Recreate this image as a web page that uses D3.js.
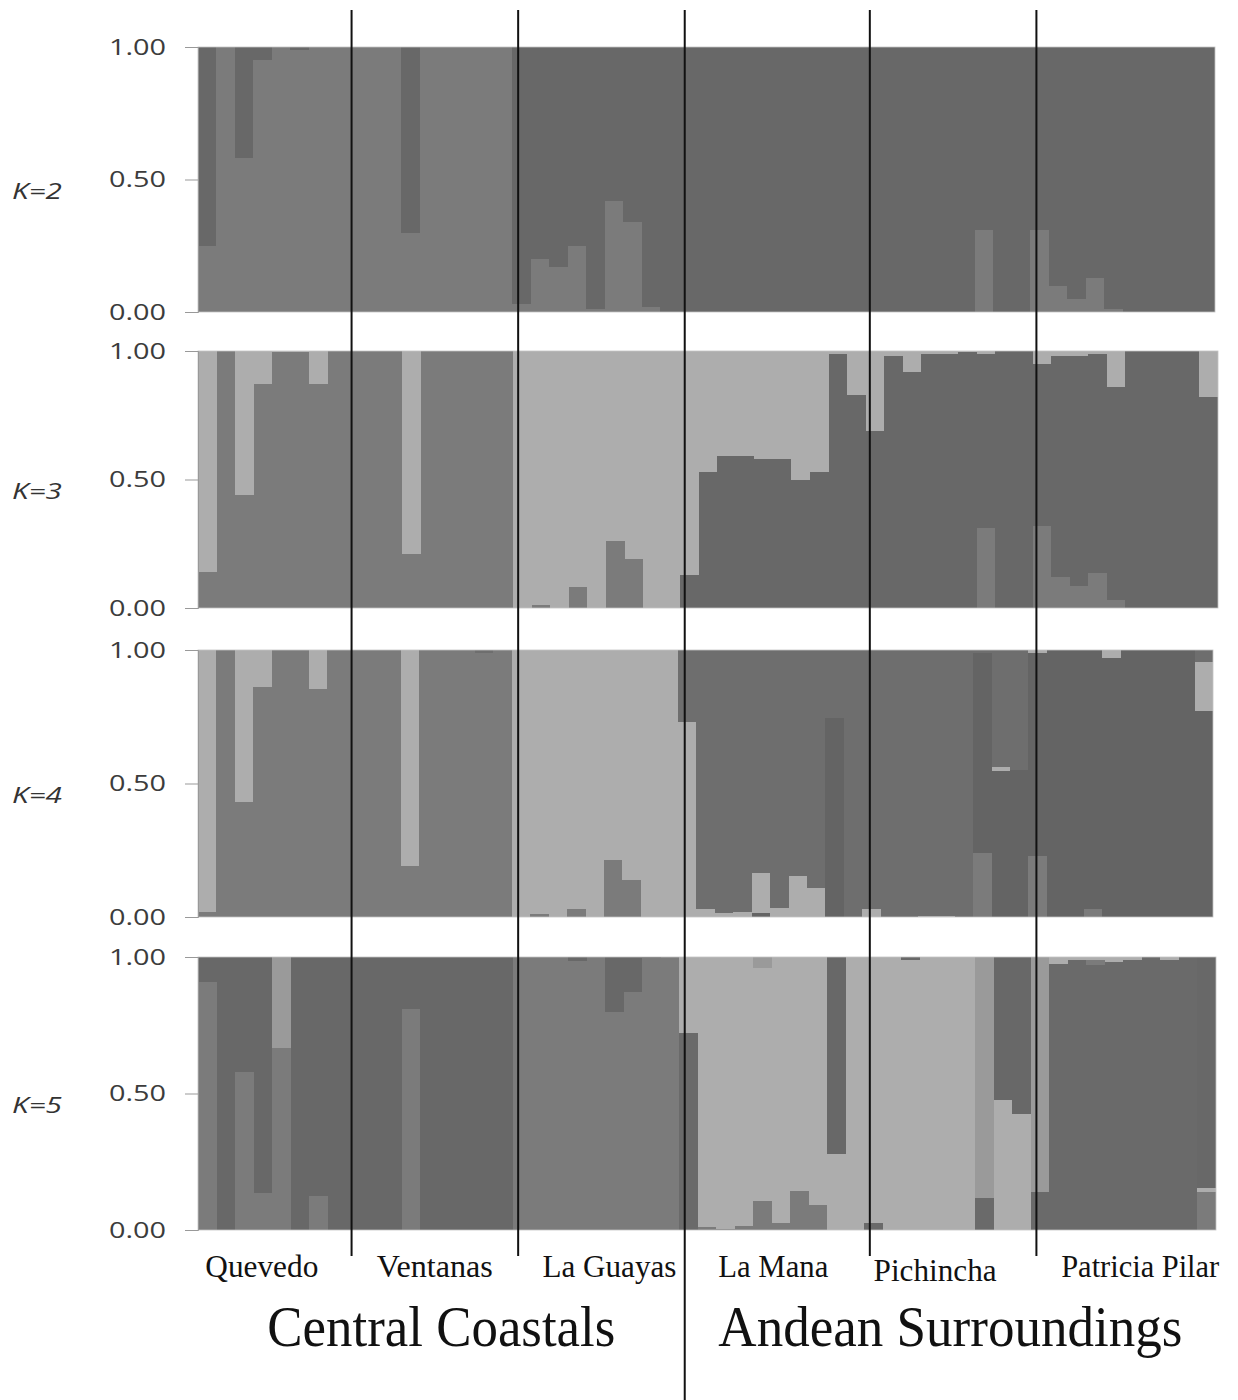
<!DOCTYPE html>
<html><head><meta charset="utf-8">
<script src="https://cdn.jsdelivr.net/npm/d3@7"></script>
<style>body{margin:0;background:#fff}</style>
</head><body><svg id="c" width="1238" height="1400"></svg>
<script>
// ---------------- DATA ----------------
const populations = ["Quevedo","Ventanas","La Guayas","La Mana","Pichincha","Patricia Pilar"];
const popSizes = [8,9,9,10,9,10];
const regions = ["Central Coastals","Andean Surroundings"];
const regionPopCounts = [3,3];
const kLabels = ["K=2","K=3","K=4","K=5"];
const tickValues = [0, 0.5, 1];
const tickLabels = ["0.00","0.50","1.00"];

// K=2 (bottom -> top)
const k2_c1 = [0.25,1,0.58,0.95,1,0.99,1,1, 1,1,1,0.30,1,1,1,1,1, 0.03,0.20,0.17,0.25,0.01,0.42,0.34,0.02,0, 0,0,0,0,0,0,0,0,0,0, 0,0,0,0,0,0,0.31,0,0, 0.31,0.10,0.05,0.13,0.01,0,0,0,0,0];
const k2_c2 = [0.75,0,0.42,0.05,0,0.01,0,0, 0,0,0,0.70,0,0,0,0,0, 0.97,0.80,0.83,0.75,0.99,0.58,0.66,0.98,1, 1,1,1,1,1,1,1,1,1,1, 1,1,1,1,1,1,0.69,1,1, 0.69,0.90,0.95,0.87,0.99,1,1,1,1,1];

// K=3
const k3_c1 = [0.14,1,0.44,0.87,0.995,0.995,0.87,1, 1,1,1,0.21,1,1,1,1,1, 0,0.01,0,0.08,0,0.26,0.19,0,0, 0,0,0,0,0,0,0,0,0,0, 0,0,0,0,0,0,0.31,0,0, 0.32,0.12,0.085,0.135,0.03,0,0,0,0,0];
const k3_c2 = [0,0,0,0,0,0,0,0, 0,0,0,0,0,0,0,0,0, 0,0,0,0,0,0,0,0,0, 0.13,0.53,0.59,0.59,0.58,0.58,0.50,0.53,0.99,0.83, 0.69,0.98,0.92,0.99,0.99,0.995,0.68,1,1, 0.63,0.86,0.895,0.855,0.83,1,1,1,1,0.82];
const k3_c3 = [0.86,0,0.56,0.13,0.005,0.005,0.13,0, 0,0,0,0.79,0,0,0,0,0, 1,0.99,1,0.92,1,0.74,0.81,1,1, 0.87,0.47,0.41,0.41,0.42,0.42,0.50,0.47,0.01,0.17, 0.31,0.02,0.08,0.01,0.01,0.005,0.01,0,0, 0.05,0.02,0.02,0.01,0.14,0,0,0,0,0.18];

// K=4
const k4_c1 = [0.02,1,0.43,0.86,1,1,0.855,1, 1,1,1,0.19,1,1,1,0.99,1, 0,0.01,0,0.03,0,0.215,0.14,0,0, 0,0,0,0,0,0,0,0,0,0, 0,0,0,0,0,0,0.24,0,0, 0.23,0,0,0.03,0,0,0,0,0,0];
const k4_c2 = [0,0,0,0,0,0,0,0, 0,0,0,0,0,0,0,0,0, 0,0,0,0,0,0,0,0,0, 0,0,0,0,0.015,0,0,0,0.745,0, 0,0,0,0,0,0,0.75,0.545,0.55, 0.76,1,1,0.97,0.97,1,1,1,1,0.77];
const k4_c3 = [0.98,0,0.57,0.14,0,0,0.145,0, 0,0,0,0.81,0,0,0,0,0, 1,0.99,1,0.97,1,0.785,0.86,1,1, 0.73,0.03,0.015,0.02,0.15,0.035,0.155,0.11,0,0, 0.03,0,0,0.005,0.005,0,0,0.015,0, 0.01,0,0,0,0.03,0,0,0,0,0.185];
const k4_c4 = [0,0,0,0,0,0,0,0, 0,0,0,0,0,0,0,0.01,0, 0,0,0,0,0,0,0,0,0, 0.27,0.97,0.985,0.98,0.835,0.965,0.845,0.89,0.255,1, 0.97,1,1,0.995,0.995,1,0.01,0.44,0.45, 0,0,0,0,0,0,0,0,0,0.045];

// K=5
const k5_c1 = [0,0,0,0,0,0,0,0, 0,0,0,0,0,0,0,0,0, 0,0,0,0,0,0,0,0,0, 0.72,0,0,0,0,0,0,0,0,0, 0.025,0,0,0,0,0,0.117,0,0, 0.14,0.975,0.988,0.97,0.98,0.99,1,0.99,1,0];
const k5_c2 = [0.91,0,0.58,0.135,0.665,0,0.125,0, 0,0,0,0.81,0,0,0,0,0, 1,1,1,0.985,1,0.8,0.87,0.995,1, 0,0.01,0.005,0.015,0.105,0.025,0.143,0.092,0,0, 0,0,0,0,0,0,0,0,0, 0,0,0,0.02,0,0,0,0,0,0.14];
const k5_c3 = [0,0,0,0,0,0,0,0, 0,0,0,0,0,0,0,0,0, 0,0,0,0,0,0,0,0,0, 0.28,0.99,0.995,0.985,0.855,0.975,0.857,0.908,0.28,1, 0.975,1,0.99,1,1,1,0,0.475,0.425, 0,0.025,0.012,0.01,0.02,0.01,0,0.01,0,0.015];
const k5_c4 = [0.09,1,0.42,0.865,0,1,0.875,1, 1,1,1,0.19,1,1,1,1,1, 0,0,0,0.015,0,0.2,0.13,0.005,0, 0,0,0,0,0,0,0,0,0.72,0, 0,0,0.01,0,0,0,0,0.525,0.575, 0,0,0,0,0,0,0,0,0,0.845];
const k5_c5 = [0,0,0,0,0.335,0,0,0, 0,0,0,0,0,0,0,0,0, 0,0,0,0,0,0,0,0,0, 0,0,0,0,0.04,0,0,0,0,0, 0,0,0,0,0,0,0.883,0,0, 0.86,0,0,0,0,0,0,0,0,0];

// ---------------- LAYOUT ----------------
const panels = [
  {label:kLabels[0], series:[k2_c1,k2_c2], colors:["#7b7b7b","#686868"], x0:198, x1:1215, y0:47, y1:312},
  {label:kLabels[1], series:[k3_c1,k3_c2,k3_c3], colors:["#7b7b7b","#686868","#adadad"], x0:198, x1:1218, y0:351, y1:608},
  {label:kLabels[2], series:[k4_c1,k4_c2,k4_c3,k4_c4], colors:["#7b7b7b","#646464","#adadad","#6e6e6e"], x0:198, x1:1213, y0:650, y1:917},
  {label:kLabels[3], series:[k5_c1,k5_c2,k5_c3,k5_c4,k5_c5], colors:["#6a6a6a","#7b7b7b","#adadad","#686868","#9a9a9a"], x0:198, x1:1216, y0:957, y1:1230}
];
const popLabelWidths = [113,116,134,110,123,158];
const popLabelShift = [-13,0,8,-4,-18,14];
const regionLabelWidths = [348,464];

const svg = d3.select("#c");
const n = k2_c1.length;
const idx = d3.range(n);

panels.forEach(p => {
  const x = d3.scaleBand().domain(idx).range([p.x0, p.x1]).padding(0);
  const y = d3.scaleLinear().domain([0,1]).range([p.y1, p.y0]).clamp(true);
  const keys = p.series.map((s,j) => "c"+j);
  const rows = idx.map(i => { const o = {i}; p.series.forEach((s,j) => o["c"+j] = s[i]); return o; });
  const stacked = d3.stack().keys(keys)(rows);
  const g = svg.append("g").attr("shape-rendering","crispEdges");
  stacked.forEach((layer, j) => {
    g.append("g").attr("fill", p.colors[j])
      .selectAll("rect").data(layer.filter(d => d[1]-d[0] > 0)).join("rect")
      .attr("x", d => x(d.data.i)).attr("width", x.bandwidth())
      .attr("y", d => y(Math.min(1,d[1]))).attr("height", d => y(d[0]) - y(Math.min(1,d[1])));
  });
  svg.append("rect").attr("x", p.x0).attr("y", p.y0).attr("width", p.x1-p.x0).attr("height", p.y1-p.y0)
    .attr("fill","none").attr("stroke","#c4c4c4").attr("stroke-width",0.8);

  const ax = d3.axisLeft(y).tickValues(tickValues).tickFormat((d,i) => tickLabels[i]).tickSize(13).tickPadding(19);
  const ag = svg.append("g").attr("transform", `translate(${p.x0},0)`).call(ax);
  ag.select(".domain").attr("stroke","#999");
  ag.selectAll(".tick line").attr("stroke","#999");
  ag.selectAll(".tick text").attr("fill","#3c3c3c").style("font-family","'Open Sans', sans-serif")
    .style("font-size","22px").attr("textLength",57).attr("lengthAdjust","spacingAndGlyphs");

  svg.append("text").attr("x", 12).attr("y", y(0.5) + 19).text(p.label)
    .attr("fill","#333").style("font-family","'Open Sans', sans-serif").style("font-style","italic")
    .style("font-size","21px").attr("textLength",50).attr("lengthAdjust","spacingAndGlyphs");
});

// population separators
const xs = d3.scaleBand().domain(idx).range([198, 1216]);
const starts = popSizes.map((s,i) => d3.sum(popSizes.slice(0,i)));
const regionBoundary = d3.sum(popSizes.slice(0, regionPopCounts[0]));
const sepX = k => xs(k) + 5.5;
starts.slice(1).forEach(k => {
  svg.append("line").attr("x1", sepX(k)).attr("x2", sepX(k)).attr("y1", 10)
    .attr("y2", k === regionBoundary ? 1400 : 1256).attr("stroke","#111").attr("stroke-width",2);
});

// population labels
const edges = [198, ...starts.slice(1).map(sepX), 1216];
populations.forEach((name,i) => {
  const cx = (edges[i] + edges[i+1]) / 2 + popLabelShift[i];
  svg.append("text").attr("x", cx).attr("y", name === "Pichincha" ? 1281 : 1277).attr("text-anchor","middle")
    .text(name).attr("fill","#111").style("font-family","'Liberation Serif', serif").style("font-size","32px")
    .attr("textLength", popLabelWidths[i]).attr("lengthAdjust","spacingAndGlyphs");
});

// region labels
const rEdges = [198, sepX(regionBoundary), 1216];
regions.forEach((name,i) => {
  svg.append("text").attr("x", (rEdges[i]+rEdges[i+1])/2).attr("y", 1346).attr("text-anchor","middle")
    .text(name).attr("fill","#111").style("font-family","'Liberation Serif', serif").style("font-size","58px")
    .attr("textLength", regionLabelWidths[i]).attr("lengthAdjust","spacingAndGlyphs");
});
</script></body></html>
